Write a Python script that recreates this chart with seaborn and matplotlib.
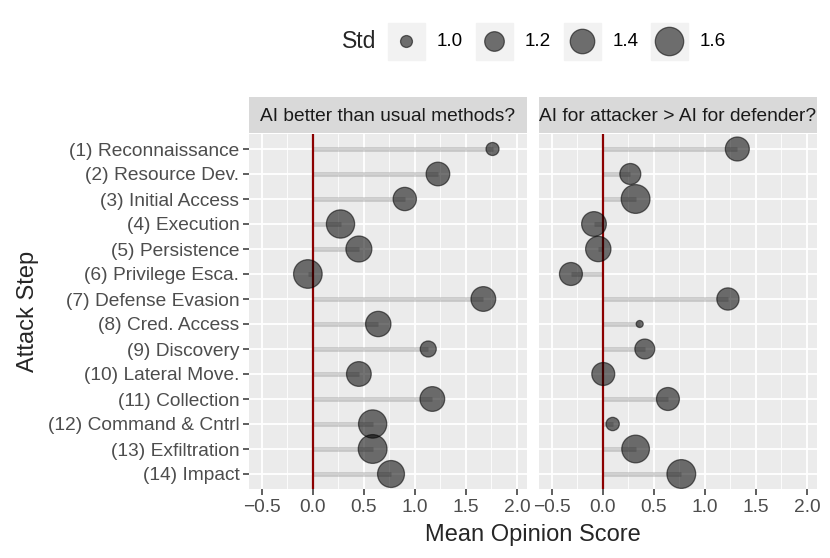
import numpy as np
import pandas as pd
import matplotlib
matplotlib.use("Agg")
import matplotlib.pyplot as plt
import seaborn as sns

steps = [
    "(1) Reconnaissance", "(2) Resource Dev.", "(3) Initial Access",
    "(4) Execution", "(5) Persistence", "(6) Privilege Esca.",
    "(7) Defense Evasion", "(8) Cred. Access", "(9) Discovery",
    "(10) Lateral Move.", "(11) Collection", "(12) Command & Cntrl",
    "(13) Exfiltration", "(14) Impact",
]
panels = ["AI better than usual methods?", "AI for attacker > AI for defender?"]

mean_better = [1.76, 1.225, 0.90, 0.27, 0.45, -0.05, 1.67, 0.64, 1.13, 0.45, 1.17, 0.585, 0.585, 0.765]
std_better = [1.02, 1.36, 1.345, 1.59, 1.47, 1.61, 1.41, 1.44, 1.09, 1.41, 1.41, 1.59, 1.62, 1.52]
mean_attacker = [1.317, 0.268, 0.32, -0.088, -0.046, -0.314, 1.225, 0.36, 0.41, 0.003, 0.637, 0.095, 0.32, 0.768]
std_attacker = [1.375, 1.25, 1.62, 1.41, 1.44, 1.33, 1.30, 0.946, 1.21, 1.33, 1.33, 1.026, 1.56, 1.62]

legend_breaks = [1.0, 1.2, 1.4, 1.6]
x_ticks = [-0.5, 0.0, 0.5, 1.0, 1.5, 2.0]
x_minor = [-0.25, 0.25, 0.75, 1.25, 1.75]

df = pd.concat([
    pd.DataFrame({"step": steps, "mean": mean_better, "std": std_better, "panel": panels[0]}),
    pd.DataFrame({"step": steps, "mean": mean_attacker, "std": std_attacker, "panel": panels[1]}),
])
df["pos"] = df["step"].map({s: i for i, s in enumerate(steps)})

W, H = 830, 558
DPI = 100
STD_MIN, STD_RANGE = 0.94, 0.68


def marker_area(std):
    # ggplot-like area scale: diameter linear in sqrt of rescaled value
    d_px = 4.8 + 24 * np.sqrt(max(std - STD_MIN, 0) / STD_RANGE)
    return (d_px * 72 / DPI) ** 2


def px_box(x0, y0, x1, y1):
    return [x0 / W, 1 - y1 / H, (x1 - x0) / W, (y1 - y0) / H]


sns.set_theme(style="darkgrid")
plt.rcParams["font.family"] = ["Liberation Sans", "DejaVu Sans"]

fig = plt.figure(figsize=(W / DPI, H / DPI), dpi=DPI)
size_map = {s: marker_area(s) for s in df["std"].unique()}

panel_x = [(249, 527), (539, 817)]
for i, name in enumerate(panels):
    x0, x1 = panel_x[i]
    ax = fig.add_axes(px_box(x0, 134, x1, 489))
    sub = df[df["panel"] == name]

    ax.hlines(sub["pos"], 0, sub["mean"], color="#9a9a9a", alpha=0.45, linewidth=3.4, zorder=2)
    ax.axvline(0, color="#8B0000", linewidth=1.6, zorder=3)
    sns.scatterplot(data=sub, x="mean", y="pos", size="std", sizes=size_map,
                    color="black", alpha=0.55, edgecolor="black", linewidth=0.9,
                    legend=False, ax=ax, zorder=4)

    ax.set_facecolor("#EBEBEB")
    ax.set_xticks(x_ticks)
    ax.set_xticks(x_minor, minor=True)
    ax.set_yticks(range(len(steps)))
    ax.set_xlim(-0.627, 2.098)
    ax.set_ylim(len(steps) - 0.4, -0.6)
    ax.grid(which="major", color="white", linewidth=1.3)
    ax.grid(which="minor", axis="x", color="white", linewidth=0.6)
    ax.set_axisbelow(True)
    for sp in ax.spines.values():
        sp.set_visible(False)
    ax.set_xlabel("")
    ax.set_ylabel("")
    ax.tick_params(axis="both", which="major", bottom=True, left=True, length=4.5, width=1.1,
                   color="#333333", labelsize=13.8, labelcolor="#4D4D4D", pad=2.5)
    ax.tick_params(which="minor", length=0)
    ax.set_xticklabels([f"{t:.1f}".replace("-", "\u2212") for t in x_ticks])
    if i == 0:
        ax.set_yticklabels(steps)
    else:
        ax.set_yticklabels([])
        ax.tick_params(axis="y", left=False, length=0)

    # facet strip
    st = fig.add_axes(px_box(x0, 97, x1, 133))
    st.set_facecolor("#D9D9D9")
    st.set_xticks([])
    st.set_yticks([])
    for sp in st.spines.values():
        sp.set_visible(False)
    st.text(0.5, 0.47, name, ha="center", va="center", fontsize=13.8, color="#1A1A1A",
            transform=st.transAxes)

fig.text(533 / W, 1 - 535 / H, "Mean Opinion Score", ha="center", va="center", fontsize=17)
fig.text(28 / W, 1 - 311 / H, "Attack Step", ha="center", va="center", fontsize=17, rotation=90)

# size legend along the top
lg = fig.add_axes([0, 0, 1, 1], zorder=-1)
lg.set_xlim(0, W)
lg.set_ylim(H, 0)
lg.axis("off")
lg.text(342, 42, "Std", ha="left", va="center", fontsize=16.5)
key_cx = [406, 494, 582, 669]
for cx, b in zip(key_cx, legend_breaks):
    lg.add_patch(plt.Rectangle((cx - 18.5, 22.5), 37, 37, color="#F2F2F2", zorder=1))
    lg.scatter([cx], [41], s=marker_area(b), color="black", alpha=0.55,
               edgecolor="black", linewidth=0.9, zorder=2)
    lg.text(cx + 31, 42, f"{b:.1f}", ha="left", va="center", fontsize=13.6, color="black")

fig.savefig("out.png", dpi=DPI)
